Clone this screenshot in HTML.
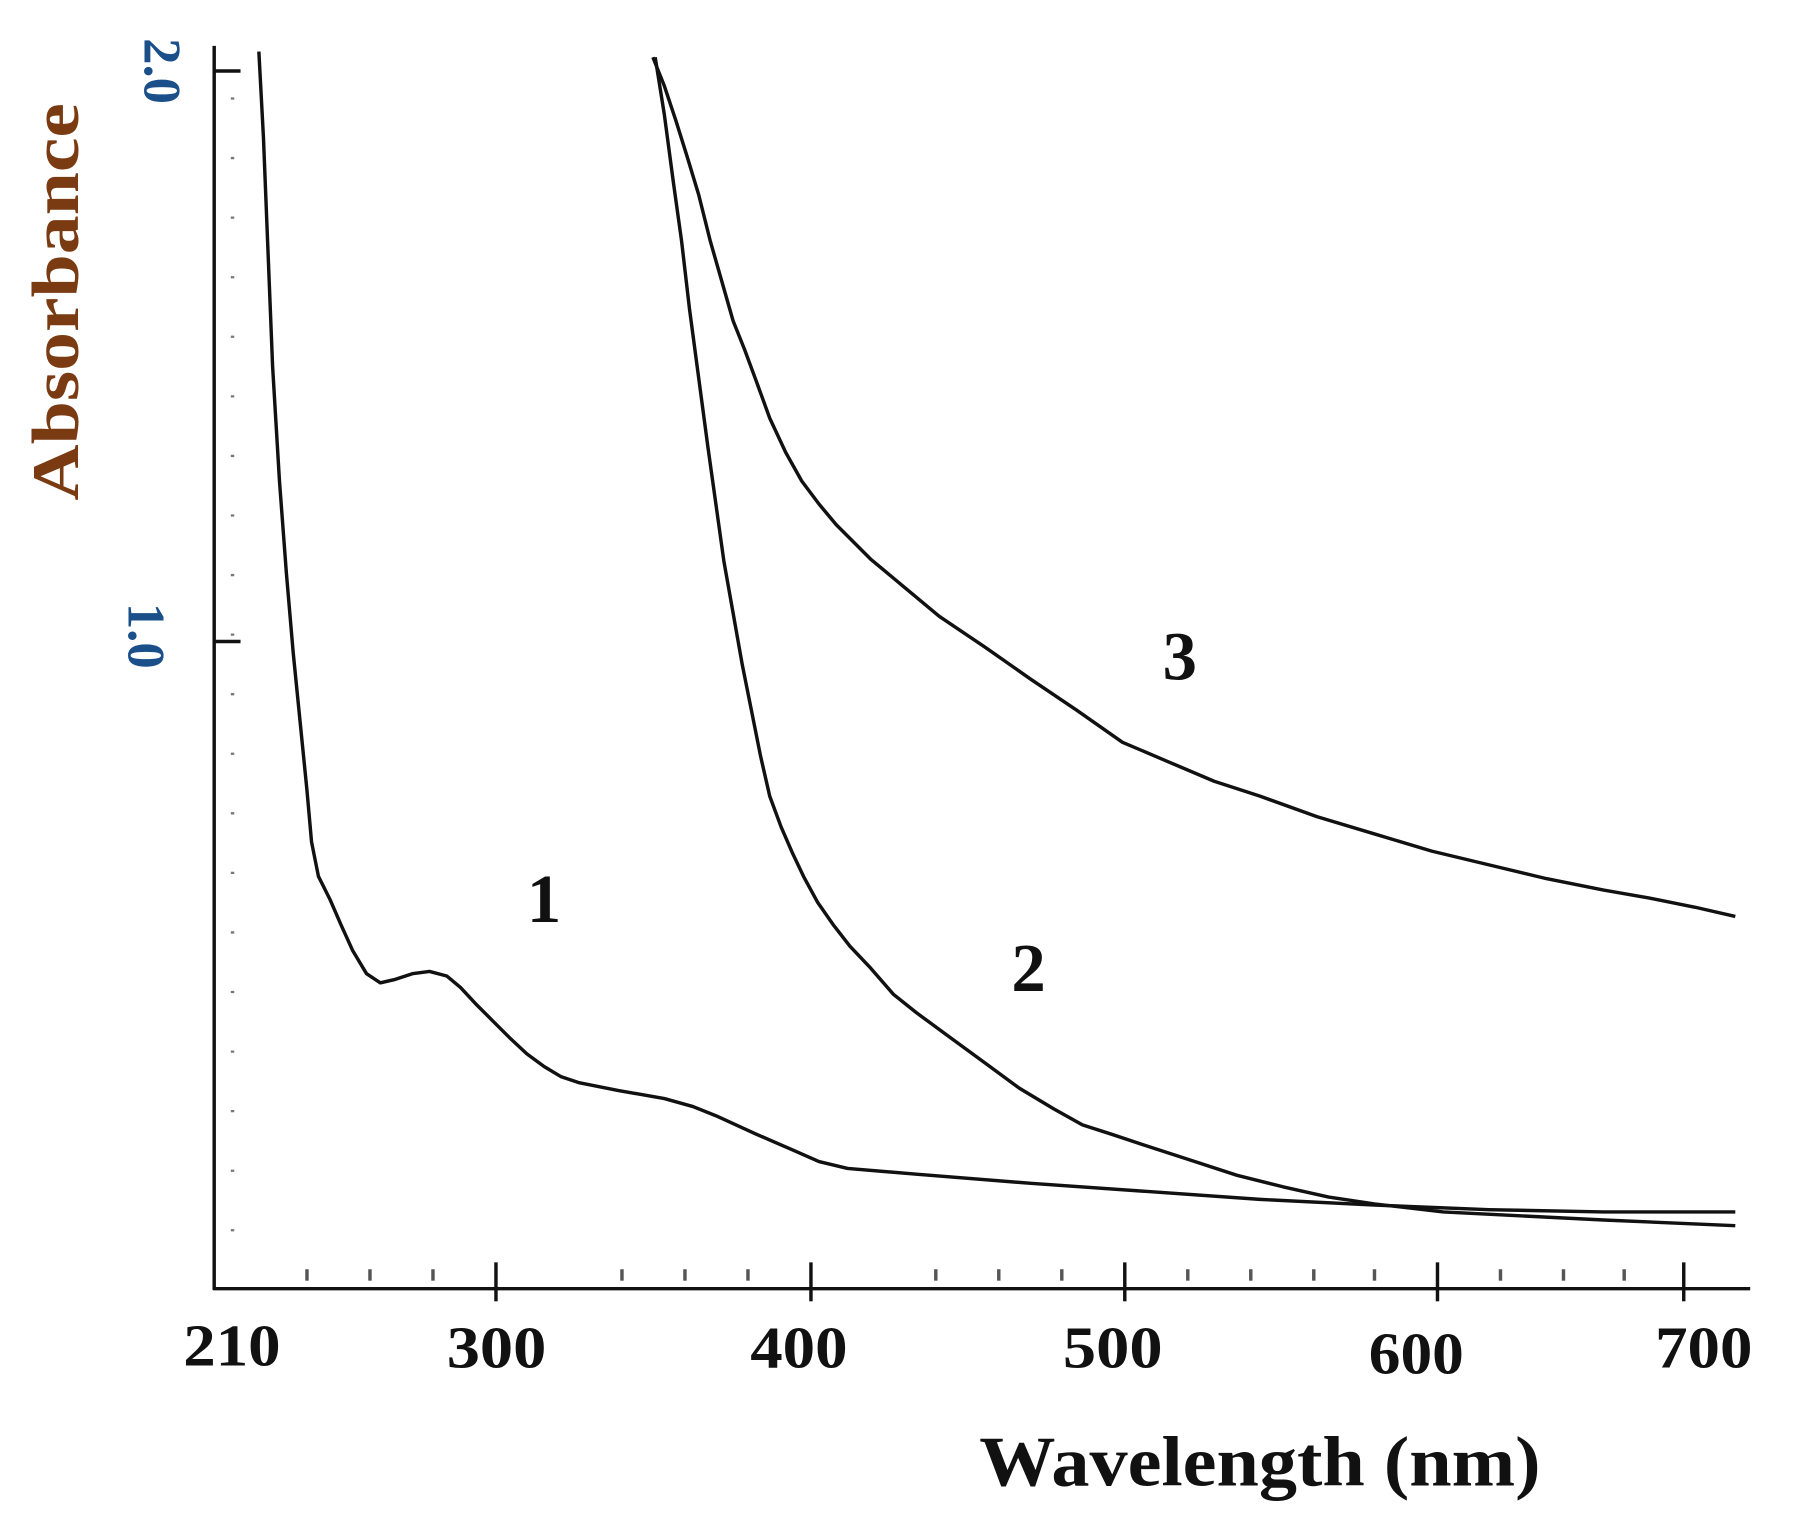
<!DOCTYPE html>
<html><head><meta charset="utf-8"><style>html,body{margin:0;padding:0;background:#fff}svg{display:block}</style></head>
<body>
<svg width="1796" height="1535" viewBox="0 0 1568 1340" preserveAspectRatio="none" xmlns="http://www.w3.org/2000/svg">
<rect width="1568" height="1340" fill="#fff"/>
<g stroke="#111" stroke-width="3" fill="none">
<line x1="187" y1="40" x2="187" y2="1126"/>
<line x1="186" y1="1125" x2="1528" y2="1125"/>
<line x1="433" y1="1102" x2="433" y2="1136"/>
<line x1="708" y1="1102" x2="708" y2="1136"/>
<line x1="982" y1="1102" x2="982" y2="1136"/>
<line x1="1255" y1="1102" x2="1255" y2="1136"/>
<line x1="1470" y1="1102" x2="1470" y2="1136"/>
<line x1="187" y1="62" x2="210" y2="62"/>
<line x1="187" y1="560" x2="210" y2="560"/>
</g>
<g stroke="#777" stroke-width="3" stroke-dasharray="2 50" fill="none">
<line x1="203" y1="85" x2="203" y2="1100"/>
</g>
<g stroke="#555" stroke-width="3">
<line x1="268" y1="1108" x2="268" y2="1118"/><line x1="323" y1="1108" x2="323" y2="1118"/><line x1="378" y1="1108" x2="378" y2="1118"/>
<line x1="543" y1="1108" x2="543" y2="1118"/><line x1="598" y1="1108" x2="598" y2="1118"/><line x1="653" y1="1108" x2="653" y2="1118"/>
<line x1="817" y1="1108" x2="817" y2="1118"/><line x1="872" y1="1108" x2="872" y2="1118"/><line x1="927" y1="1108" x2="927" y2="1118"/>
<line x1="1037" y1="1108" x2="1037" y2="1118"/><line x1="1092" y1="1108" x2="1092" y2="1118"/><line x1="1147" y1="1108" x2="1147" y2="1118"/><line x1="1200" y1="1108" x2="1200" y2="1118"/>
<line x1="1310" y1="1108" x2="1310" y2="1118"/><line x1="1365" y1="1108" x2="1365" y2="1118"/><line x1="1418" y1="1108" x2="1418" y2="1118"/>
</g>
<g stroke="#111" stroke-width="3" fill="none" stroke-linejoin="round">
<polyline points="226,45 230,120 234,220 238,320 244,420 250,500 256,570 262,630 268,690 272,735 278,765 288,785 298,808 308,830 320,850 332,858 345,855 360,850 375,848 390,852 402,862 415,876 430,891 445,906 460,920 475,931 490,940 505,945 540,952 580,959 605,966 625,974 660,990 690,1003 715,1014 740,1020 800,1025 900,1033 1000,1040 1100,1047 1200,1052 1300,1056 1400,1058 1515,1058"/>
<polyline points="572,50 580,100 588,160 595,210 602,270 610,330 618,390 625,440 632,490 640,535 648,580 656,620 664,660 672,695 682,722 692,745 702,766 714,788 728,808 742,826 760,845 780,868 800,884 830,906 860,928 890,950 920,968 945,982 970,990 1000,1000 1040,1013 1080,1026 1120,1036 1160,1045 1200,1051 1260,1058 1400,1065 1515,1070"/>
<polyline points="570,50 580,75 590,105 600,137 610,170 620,210 630,245 640,280 650,305 660,332 672,365 686,395 700,420 715,440 730,458 760,488 790,513 820,538 860,565 900,593 940,620 980,648 1020,665 1060,682 1100,695 1150,713 1200,728 1250,743 1300,755 1350,767 1400,777 1440,784 1480,792 1515,800"/>
</g>
<g font-family="Liberation Serif, serif" font-weight="bold" fill="#111">
<text x="475" y="805" font-size="60" text-anchor="middle">1</text>
<text x="898" y="865" font-size="60" text-anchor="middle">2</text>
<text x="1030" y="593" font-size="60" text-anchor="middle">3</text>
<g font-size="52">
<text x="160" y="1192" textLength="85" lengthAdjust="spacingAndGlyphs">210</text>
<text x="390" y="1194" textLength="87" lengthAdjust="spacingAndGlyphs">300</text>
<text x="655" y="1194" textLength="85" lengthAdjust="spacingAndGlyphs">400</text>
<text x="928" y="1194" textLength="87" lengthAdjust="spacingAndGlyphs">500</text>
<text x="1195" y="1199" textLength="83" lengthAdjust="spacingAndGlyphs">600</text>
<text x="1445" y="1194" textLength="85" lengthAdjust="spacingAndGlyphs">700</text>
</g>
<text x="855" y="1297" font-size="62" textLength="490" lengthAdjust="spacingAndGlyphs">Wavelength (nm)</text>
</g>
<g font-family="Liberation Serif, serif" font-weight="bold" font-size="46" fill="#1a4f8a" text-anchor="middle">
<text transform="translate(142,62) rotate(90)" dy="16">2.0</text>
<text transform="translate(128,555) rotate(90)" dy="16">1.0</text>
</g>
<text transform="translate(68,437) rotate(-90)" font-family="Liberation Serif, serif" font-weight="bold" font-size="58" fill="#7a3a12" textLength="347" lengthAdjust="spacingAndGlyphs">Absorbance</text>
</svg>
</body></html>
